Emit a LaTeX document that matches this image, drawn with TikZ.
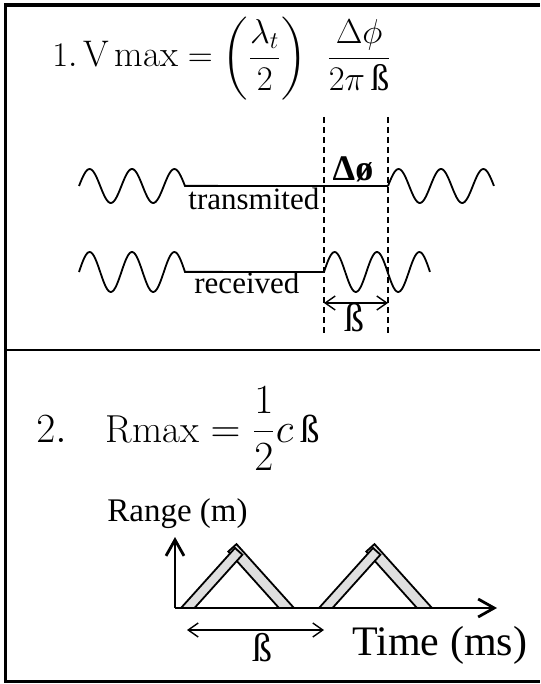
\documentclass[tikz,border=0pt]{standalone}
\usepackage{amsmath}
\usepackage{fontspec}
\newfontfamily\tm{Liberation Serif}
\usetikzlibrary{arrows.meta, positioning}

\begin{document}
\begin{tikzpicture}[
  x=0.5pt, y=-0.5pt,
  frame/.style={line width=1.5pt},
  wave/.style={line width=0.9pt},
  phase/.style={line width=0.8pt, dash pattern=on 3pt off 2pt},
  bar/.style={draw, line width=0.9pt, fill=gray!25},
  axis/.style={line width=1.4pt, -{Straight Barb[length=8pt, width=9pt]}},
  span/.style={line width=0.7pt, {Straight Barb[length=5pt, width=7pt]}-{Straight Barb[length=5pt, width=7pt]}},
  formula/.style={anchor=base west, inner sep=0pt, font=\fontsize{18.5}{22}\selectfont},
  txt/.style={anchor=base west, inner sep=0pt, font=\tm\fontsize{15.5}{18}\selectfont}
]
\useasboundingbox (0,0) rectangle (540,684);

% frame
\draw[frame] (540,5) -- (5,5) -- (5,681) -- (540,681);
\draw[line width=2pt] (5,5) -- (540,5);
\draw[line width=0.8pt] (5,350) -- (540,350);

% 1. velocity
\node[formula] (vmax) at (52,67)
  {$\displaystyle 1.\,\mathrm{V\,max}=\biggl(\frac{\lambda_t}{2}\biggr)\;\;\frac{\Delta\phi}{2\pi\,\mbox{\tm ß}}$};

\draw[wave] plot[domain=0:2.5, samples=80, smooth] ({79+42.4*\x},{186-17*sin(360*\x)})
  -- (388,186);
\draw[wave] plot[domain=0:2.5, samples=80, smooth] ({388+42.4*\x},{186-17*sin(360*\x)});
\draw[wave] plot[domain=0:2.5, samples=80, smooth] ({79+42.4*\x},{272-20*sin(360*\x)})
  -- (324,272);
\draw[wave] plot[domain=0:2.5, samples=80, smooth] ({324+42.4*\x},{272-20*sin(360*\x)});

\node[txt] (tx) at (188,210) {transmited};
\node[txt] (rx) at (194,293) {received};
\node[txt, anchor=base, font=\tm\bfseries\fontsize{18}{20}\selectfont] (dphi) at (353,181) {Δø};

\coordinate (d1top) at (324,117);
\coordinate (d1bot) at (324,336);
\coordinate (d2top) at (388,117);
\coordinate (d2bot) at (388,336);
\draw[phase] (d1top) -- (d1bot);
\draw[phase] (d2top) -- (d2bot);

\coordinate (b1l) at (324,303);
\coordinate (b1r) at (388,303);
\draw[span] (b1l) -- (b1r);
\node[txt, anchor=base, font=\tm\fontsize{20}{22}\selectfont] (beta1) at (354,331) {ß};

% 2. range
\node[formula, font=\fontsize{19.5}{23}\selectfont] (rmax) at (36,442)
  {$\displaystyle 2.\quad \mathrm{Rmax}=\frac{1}{2}c\,\mbox{\tm ß}$};

\foreach \s in {0,138}{
  \begin{scope}[shift={(181+\s,608)}]
    \draw[bar] (98,0) -- (113,0) -- (55.5,-63.9) -- (47.3,-56.5) -- cycle;
    \draw[bar] (0,0) -- (13.5,0) -- (61.4,-53.3) -- (54,-60) -- cycle;
  \end{scope}
}

\coordinate (org) at (175,608);
\coordinate (ytip) at (175,537);
\coordinate (xtip) at (497,608);
\draw[axis] (org) -- (ytip);
\draw[axis] (org) -- (xtip);

\node[txt, font=\tm\fontsize{16.5}{19}\selectfont] (range) at (107,521) {Range (m)};
\node[txt, font=\tm\fontsize{21}{24}\selectfont] (time) at (352,655) {Time (ms)};

\coordinate (b2l) at (187,630);
\coordinate (b2r) at (324,630);
\draw[span] (b2l) -- (b2r);
\node[txt, anchor=base, font=\tm\fontsize{20}{22}\selectfont] (beta2) at (262,661) {ß};

\end{tikzpicture}
\end{document}
